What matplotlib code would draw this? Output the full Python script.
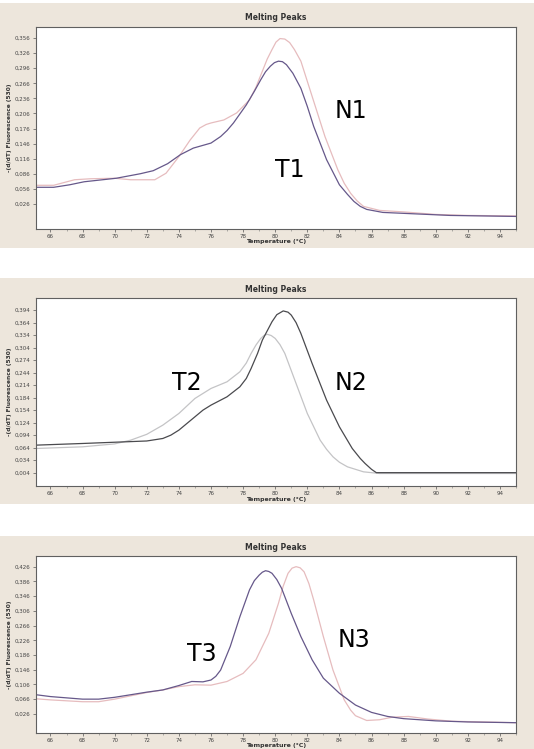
import matplotlib
matplotlib.use("Agg")
import matplotlib.pyplot as plt
from matplotlib.patches import Rectangle
from matplotlib.ticker import MultipleLocator, FuncFormatter

# temperature (°C) and -(d/dT) fluorescence readings for each run
t1_temp = [65.1, 66.2, 67.2, 68.1, 70.1, 71.6, 72.4, 73.3, 74.1, 74.9, 76.0, 76.6, 77.0, 77.4, 78.2, 78.7, 79.1, 79.4, 79.7,
           79.95, 80.2, 80.45, 80.7, 81.1, 81.6, 82.0, 82.4, 83.2, 84.0, 84.5, 84.9, 85.3, 85.7, 86.7, 88.8, 90.9, 95.0]
t1_val = [0.059, 0.059, 0.064, 0.070, 0.077, 0.086, 0.092, 0.106, 0.124, 0.137, 0.147, 0.160, 0.172, 0.187, 0.223, 0.250, 0.273, 0.289, 0.300,
          0.307, 0.310, 0.309, 0.303, 0.286, 0.256, 0.220, 0.180, 0.114, 0.064, 0.045, 0.031, 0.021, 0.015, 0.009, 0.006, 0.003, 0.001]

n1_temp = [65.1, 66.2, 67.5, 68.5, 70.0, 71.0, 72.5, 73.2, 74.0, 74.7, 75.3, 75.7, 76.0, 76.8, 77.6, 78.4,
           78.8, 79.2, 79.5, 79.8, 80.05, 80.3, 80.6, 80.9, 81.2, 81.6, 82.3, 83.1, 83.9, 84.3, 84.7, 85.1, 85.5,
           86.5, 88.0, 90.0, 92.0, 95.0]
n1_val = [0.063, 0.063, 0.074, 0.076, 0.077, 0.074, 0.074, 0.087, 0.120, 0.153, 0.177, 0.184, 0.187, 0.193, 0.207, 0.233,
          0.258, 0.290, 0.314, 0.333, 0.348, 0.355, 0.354, 0.347, 0.333, 0.310, 0.240, 0.160, 0.094, 0.067, 0.047, 0.032, 0.021,
          0.013, 0.010, 0.005, 0.003, 0.002]

n2_temp = [65.1, 68.0, 70.0, 72.0, 73.0, 73.5, 74.0, 75.0, 75.5, 76.0, 77.0, 77.8, 78.2, 78.5, 78.9, 79.2, 79.8, 80.1, 80.5,
           80.8, 81.0, 81.3, 81.6, 82.3, 83.2, 84.0, 84.8, 85.3, 85.6, 86.0, 86.3, 88.0, 95.0]
n2_val = [0.070, 0.074, 0.077, 0.080, 0.086, 0.094, 0.106, 0.138, 0.154, 0.166, 0.186, 0.210, 0.230, 0.254, 0.290, 0.322, 0.366, 0.383, 0.392,
          0.389, 0.382, 0.364, 0.338, 0.266, 0.178, 0.114, 0.062, 0.038, 0.026, 0.012, 0.004, 0.004, 0.004]

t2_temp = [65.1, 68.0, 70.0, 71.0, 72.0, 73.0, 74.0, 75.0, 76.0, 77.0, 77.8, 78.2, 78.5, 78.8, 79.1, 79.3, 79.5,
           79.75, 80.0, 80.3, 80.6, 81.3, 82.0, 82.8, 83.2, 83.6, 84.0, 84.5, 85.5, 86.5, 95.0]
t2_val = [0.062, 0.066, 0.073, 0.082, 0.096, 0.118, 0.146, 0.182, 0.206, 0.222, 0.246, 0.267, 0.290, 0.310, 0.326, 0.333, 0.336,
          0.333, 0.326, 0.311, 0.290, 0.218, 0.146, 0.082, 0.060, 0.042, 0.029, 0.018, 0.006, 0.002, 0.002]

t3_temp = [65.1, 66.0, 68.0, 69.0, 70.0, 71.0, 72.0, 73.0, 74.0, 74.8, 75.5, 76.0, 76.3, 76.6, 77.2, 77.8,
           78.4, 78.7, 79.0, 79.2, 79.4, 79.6, 79.8, 80.1, 80.4, 81.0, 81.6, 82.3, 83.0, 84.0, 85.0, 86.0, 87.0, 88.0,
           90.0, 92.0, 95.0]
t3_val = [0.078, 0.073, 0.066, 0.066, 0.071, 0.078, 0.085, 0.091, 0.103, 0.114, 0.113, 0.118, 0.128, 0.145, 0.209, 0.290,
          0.363, 0.388, 0.403, 0.411, 0.415, 0.413, 0.408, 0.391, 0.367, 0.299, 0.236, 0.173, 0.123, 0.082, 0.050, 0.030, 0.019, 0.013,
          0.007, 0.004, 0.002]

n3_temp = [65.1, 66.0, 68.0, 69.0, 70.0, 71.0, 72.0, 73.0, 74.0, 75.0, 76.0, 77.0, 78.0, 78.8, 79.6,
           80.2, 80.5, 80.8, 81.05, 81.3, 81.55, 81.8, 82.1, 82.4, 83.0, 83.6, 84.3, 84.7, 85.0, 85.7, 86.5, 87.3,
           88.3, 89.5, 91.0, 95.0]
n3_val = [0.067, 0.064, 0.059, 0.059, 0.066, 0.075, 0.084, 0.091, 0.100, 0.105, 0.104, 0.114, 0.136, 0.173, 0.245,
          0.326, 0.373, 0.408, 0.422, 0.426, 0.423, 0.412, 0.380, 0.335, 0.236, 0.145, 0.064, 0.036, 0.021, 0.008, 0.010, 0.017,
          0.019, 0.012, 0.006, 0.002]

x_ticks = list(range(66, 96, 2))
y_ticks_1 = [0.026, 0.056, 0.086, 0.116, 0.146, 0.176, 0.206, 0.236, 0.266, 0.296, 0.326, 0.356]
y_ticks_2 = [0.004, 0.034, 0.064, 0.094, 0.124, 0.154, 0.184, 0.214, 0.244, 0.274, 0.304, 0.334, 0.364, 0.394]
y_ticks_3 = [0.026, 0.066, 0.106, 0.146, 0.186, 0.226, 0.266, 0.306, 0.346, 0.386, 0.426]

PURPLE = "#66588a"
PINK = "#e6bcbe"
DARK = "#4a4a4e"
LIGHT = "#c4c4c6"
BEIGE = "#ede6dc"

W, H = 534, 749
fig = plt.figure(figsize=(W / 100, H / 100), dpi=100)
fig.patch.set_facecolor("white")


def px_box(x0, y0, x1, y1):
    # pixel box (top-left origin) -> figure fraction rect
    return [x0 / W, 1 - y1 / H, (x1 - x0) / W, (y1 - y0) / H]


def panel(bg, box, title_y, xlabel_y, yticks, ylim, series, labels):
    r = px_box(*bg)
    fig.patches.append(Rectangle((r[0], r[1]), r[2], r[3], transform=fig.transFigure,
                                 facecolor=BEIGE, edgecolor="none", zorder=-5))
    ax = fig.add_axes(px_box(*box))
    ax.set_zorder(2)
    ax.set_facecolor("white")
    for temp, val, color in series:
        ax.plot(temp, val, color=color, lw=0.9, solid_joinstyle="round")
    for txt, x, y in labels:
        ax.text(x, y, txt, fontsize=17, ha="center", va="center", color="black")
    ax.set_xlim(65.1, 95.0)
    ax.set_ylim(*ylim)
    ax.set_xticks(x_ticks)
    ax.xaxis.set_minor_locator(MultipleLocator(1))
    ax.set_yticks(yticks)
    ax.yaxis.set_major_formatter(FuncFormatter(lambda v, p: f"{v:.3f}".replace(".", ",")))
    ax.tick_params(axis="both", which="major", labelsize=4, length=2.5, width=0.5,
                   color="#555555", labelcolor="#444444", pad=1.2)
    ax.tick_params(axis="both", which="minor", length=1.2, width=0.4, color="#777777")
    for s in ax.spines.values():
        s.set_color("#606060")
        s.set_linewidth(0.8)
    cx = (box[0] + box[2]) / 2 / W
    fig.text(cx, 1 - title_y / H, "Melting Peaks", fontsize=5.5, fontweight="bold",
             ha="center", va="center", color="#333333")
    fig.text(cx, 1 - xlabel_y / H, "Temperature (°C)", fontsize=4.5, fontweight="bold",
             ha="center", va="center", color="#333333")
    fig.text(10 / W, 1 - (box[1] + box[3]) / 2 / H, "-(d/dT) Fluorescence (530)", fontsize=4.2,
             fontweight="bold", rotation=90, ha="center", va="center", color="#333333")
    return ax


panel((0, 3, W, 248), (36, 27, 516, 229), 18, 242, y_ticks_1, (-0.024, 0.378),
      [(n1_temp, n1_val, PINK), (t1_temp, t1_val, PURPLE)],
      [("N1", 84.7, 0.210), ("T1", 80.9, 0.094)])

panel((0, 278, W, 504), (36, 298, 516, 486), 290, 499, y_ticks_2, (-0.028, 0.423),
      [(t2_temp, t2_val, LIGHT), (n2_temp, n2_val, DARK)],
      [("T2", 74.5, 0.220), ("N2", 84.7, 0.220)])

panel((0, 536, W, H), (36, 556, 516, 733), 547, 746, y_ticks_3, (-0.026, 0.455),
      [(n3_temp, n3_val, PINK), (t3_temp, t3_val, PURPLE)],
      [("T3", 75.4, 0.188), ("N3", 84.9, 0.227)])

fig.savefig("out.png", dpi=100)
